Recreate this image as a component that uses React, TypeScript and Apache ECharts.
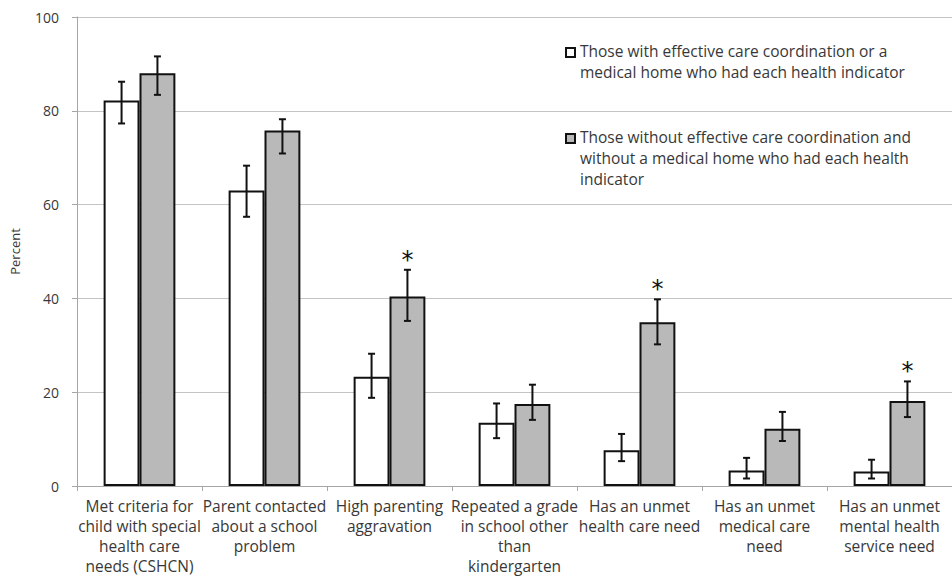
import React, { useEffect, useRef } from "react";
import * as echarts from "echarts";

const categories = [
  "Met criteria for\nchild with special\nhealth care\nneeds (CSHCN)",
  "Parent contacted\nabout a school\nproblem",
  "High parenting\naggravation",
  "Repeated a grade\nin school other\nthan\nkindergarten",
  "Has an unmet\nhealth care need",
  "Has an unmet\nmedical care\nneed",
  "Has an unmet\nmental health\nservice need",
];

const withCare = [82.2, 63.0, 23.3, 13.5, 7.6, 3.3, 3.1];
const withCareLow = [77.3, 57.4, 18.8, 10.2, 5.3, 1.6, 1.6];
const withCareHigh = [86.2, 68.3, 28.2, 17.6, 11.1, 6.0, 5.6];

const withoutCare = [88.0, 75.8, 40.4, 17.5, 34.9, 12.2, 18.1];
const withoutCareLow = [83.4, 70.9, 35.2, 14.1, 30.2, 9.6, 14.7];
const withoutCareHigh = [91.6, 78.2, 46.1, 21.6, 39.8, 15.8, 22.3];

const significant = [false, false, true, false, true, false, true];

const legendNames = [
  "Those with effective care coordination or a\nmedical home who had each health indicator",
  "Those without effective care coordination and\nwithout a medical home who had each health\nindicator",
];

const yTicks = [0, 20, 40, 60, 80, 100];

const FONT = "'Open Sans', Lato, sans-serif";
const TEXT = "#383838";
const BAR_FRAC = 0.287;

function errorSeries(low: number[], high: number[], side: number, sig: boolean[] | null) {
  return {
    type: "custom",
    z: 5,
    data: low.map((l, i) => [i, l, high[i], sig && sig[i] ? 1 : 0]),
    encode: { x: 0, y: [1, 2] },
    renderItem: (params: any, api: any) => {
      const idx = api.value(0);
      const lo = api.coord([idx, api.value(1)]);
      const hi = api.coord([idx, api.value(2)]);
      const band = api.size([1, 0])[0];
      const x = lo[0] + (side * band * BAR_FRAC) / 2;
      const cap = 3.5;
      const style = { stroke: "#111", lineWidth: 2 };
      const children: any[] = [
        { type: "line", shape: { x1: x, y1: lo[1], x2: x, y2: hi[1] }, style },
        { type: "line", shape: { x1: x - cap, y1: lo[1], x2: x + cap, y2: lo[1] }, style },
        { type: "line", shape: { x1: x - cap, y1: hi[1], x2: x + cap, y2: hi[1] }, style },
      ];
      if (api.value(3) === 1) {
        children.push({
          type: "text",
          x: x,
          y: hi[1] + 2,
          style: {
            text: "*",
            fill: "#111",
            font: "24px 'DejaVu Sans', sans-serif",
            align: "center",
            verticalAlign: "bottom",
          },
        });
      }
      return { type: "group", children };
    },
  };
}

export default function App() {
  const ref = useRef<HTMLDivElement>(null);
  useEffect(() => {
    if (!ref.current) return;
    const chart = echarts.init(ref.current, undefined, { renderer: "svg" });
    chart.setOption({
      animation: false,
      backgroundColor: "#ffffff",
      grid: { left: 73, right: -7, top: 17, bottom: 101, containLabel: false },
      xAxis: {
        type: "category",
        data: categories,
        axisLine: { show: true, lineStyle: { color: "#a6a6a6", width: 1 } },
        axisTick: { show: true, length: 5, lineStyle: { color: "#a6a6a6" } },
        axisLabel: {
          interval: 0,
          margin: 10,
          color: TEXT,
          fontFamily: FONT,
          fontSize: 15.5,
          lineHeight: 20,
          align: "center",
        },
      },
      yAxis: {
        type: "value",
        min: 0,
        max: 100,
        interval: 20,
        name: "Percent",
        nameLocation: "middle",
        nameGap: 56,
        nameTextStyle: { color: TEXT, fontFamily: FONT, fontSize: 13 },
        axisLine: { show: true, lineStyle: { color: "#a6a6a6", width: 1 } },
        axisTick: { show: true, length: 5, lineStyle: { color: "#a6a6a6" } },
        axisLabel: {
          color: TEXT,
          fontFamily: FONT,
          fontSize: 14,
          margin: 18,
          formatter: (v: number) => (yTicks.includes(v) ? String(v) : ""),
        },
        splitLine: { show: true, lineStyle: { color: "#c4c4c4", width: 1 } },
      },
      series: [
        {
          name: legendNames[0],
          type: "bar",
          data: withCare,
          barWidth: (BAR_FRAC * 100).toFixed(1) + "%",
          barGap: "0%",
          itemStyle: { color: "#ffffff", borderColor: "#111", borderWidth: 2 },
        },
        {
          name: legendNames[1],
          type: "bar",
          data: withoutCare,
          barWidth: (BAR_FRAC * 100).toFixed(1) + "%",
          barGap: "0%",
          itemStyle: { color: "#b9b9b9", borderColor: "#111", borderWidth: 2 },
        },
        errorSeries(withCareLow, withCareHigh, -1, null),
        errorSeries(withoutCareLow, withoutCareHigh, 1, significant),
      ],
      graphic: [
        {
          type: "rect",
          left: 565,
          top: 47,
          shape: { x: 0, y: 0, width: 9, height: 9 },
          style: { fill: "#ffffff", stroke: "#111", lineWidth: 2 },
        },
        {
          type: "text",
          left: 580,
          top: 40,
          style: {
            text: legendNames[0],
            fill: TEXT,
            font: "15.5px " + FONT,
            lineHeight: 21,
          },
        },
        {
          type: "rect",
          left: 565,
          top: 133,
          shape: { x: 0, y: 0, width: 9, height: 9 },
          style: { fill: "#b9b9b9", stroke: "#111", lineWidth: 2 },
        },
        {
          type: "text",
          left: 580,
          top: 126,
          style: {
            text: legendNames[1],
            fill: TEXT,
            font: "15.5px " + FONT,
            lineHeight: 21,
          },
        },
      ],
    });
    return () => chart.dispose();
  }, []);
  return (
    <div
      ref={ref}
      style={{ position: "fixed", left: 0, top: 0, width: 952, height: 587, background: "#fff" }}
    />
  );
}
